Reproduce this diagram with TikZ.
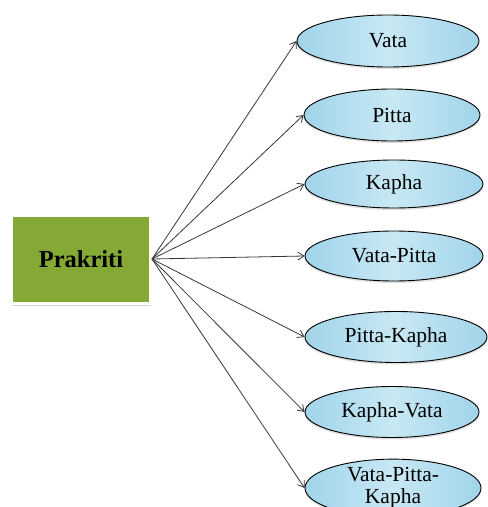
\documentclass[tikz,border=0pt]{standalone}
\usepackage{fontspec}
\setmainfont{Liberation Serif}
\usetikzlibrary{shapes.geometric,arrows.meta,shadows}
\definecolor{boxgreen}{RGB}{132,169,52}
\definecolor{ellblue}{RGB}{160,212,234}
\definecolor{elllight}{RGB}{200,232,244}
\definecolor{arrowgray}{RGB}{55,55,55}
\tikzset{
  rootbox/.style={rectangle, fill=boxgreen, draw=white, line width=2.5pt,
    minimum width=139pt, minimum height=88pt, inner sep=0pt,
    font=\fontsize{24.5}{27}\selectfont\bfseries,
    drop shadow={shadow xshift=0pt, shadow yshift=-2.5pt, opacity=0.35, fill=gray}},
  leaf/.style={ellipse, draw=black, line width=0.9pt, inner sep=0pt,
    left color=ellblue, right color=ellblue, middle color=elllight,
    font=\fontsize{21.5}{22}\selectfont, align=center,
    drop shadow={shadow xshift=0pt, shadow yshift=-2pt, opacity=0.25, fill=gray}},
  conn/.style={draw=arrowgray, line width=0.8pt, -{Straight Barb[length=6pt,width=8pt]}}
}
\begin{document}
\begin{tikzpicture}[x=1pt,y=1pt]
\useasboundingbox (0,0) rectangle (488,507);
\clip (0,0) rectangle (488,507);
\node[rootbox] (root) at (81,247.5) {Prakriti};
\node[leaf, minimum width=182pt, minimum height=52pt] (vata) at (388,466) {Vata};
\node[leaf, minimum width=176pt, minimum height=52pt] (pitta) at (392,392) {Pitta};
\node[leaf, minimum width=178pt, minimum height=48pt] (kapha) at (394,323) {Kapha};
\node[leaf, minimum width=178pt, minimum height=50pt] (vp) at (394,251) {Vata-Pitta};
\node[leaf, minimum width=182pt, minimum height=51pt] (pk) at (396,170) {Pitta-Kapha};
\node[leaf, minimum width=174pt, minimum height=51pt] (kv) at (392,95) {Kapha-Vata};
\node[leaf, minimum width=176pt, minimum height=56pt] (vpk) at (393,19) {Vata-Pitta-\\Kapha};
\coordinate (src) at (152,248);
\foreach \t in {vata,pitta,kapha,vp,pk,kv,vpk}{
  \draw[conn] (src) -- (\t.west);
}
\end{tikzpicture}
\end{document}
